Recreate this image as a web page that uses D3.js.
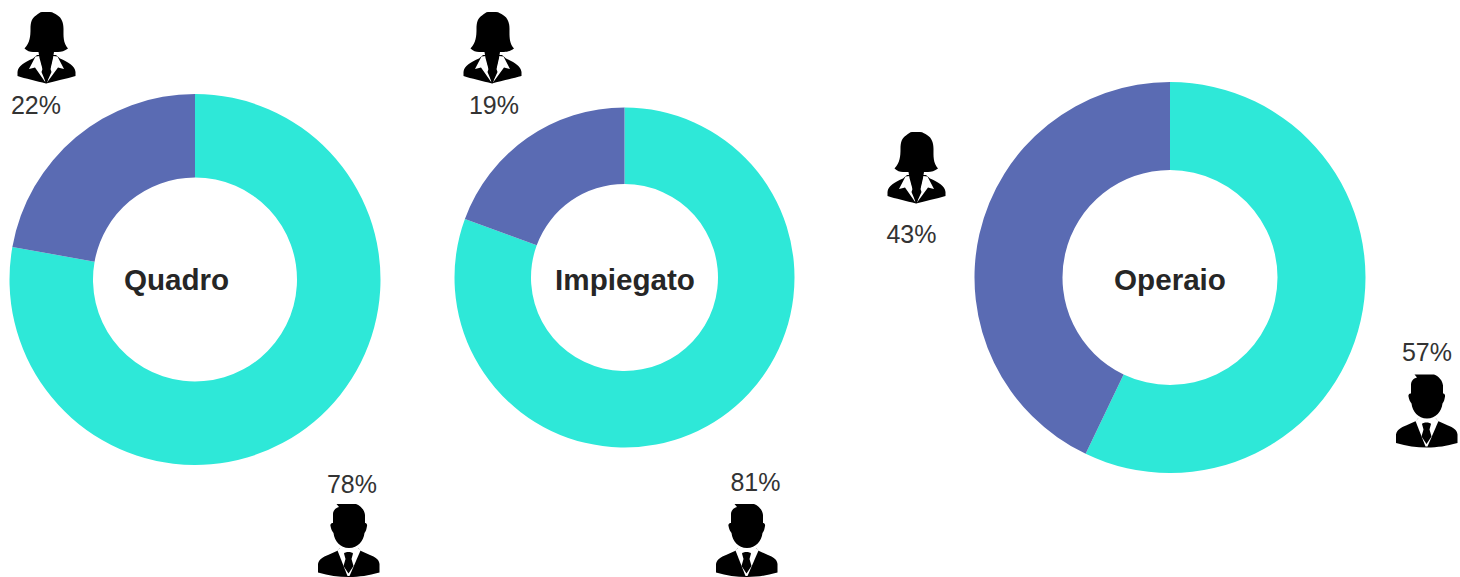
<!DOCTYPE html>
<html><head><meta charset="utf-8">
<script src="https://cdn.jsdelivr.net/npm/d3@7/dist/d3.min.js"></script>
<style>html,body{margin:0;padding:0;background:#fff;overflow:hidden}svg{display:block}text{font-family:"Liberation Sans",Arial,sans-serif}</style>
</head><body><svg id="c" width="1460" height="577"></svg>
<script>
const categories=["Quadro","Impiegato","Operaio"];
const maleValues=[77.8,80.6,57.1];
const femaleValues=[22.2,19.4,42.9];
const seriesColors=["#2ee8d8","#5a6bb3"];
const centers=[[195,279.5],[624.5,277.5],[1170,277.5]];
const radii=[[185.5,102],[170,93.5],[195.5,107.5]];
const titleX=[176.5,625,1170];
const femaleLabelPos=[[36,114],[494,114],[911.5,242.5]];
const maleLabelPos=[[352,492.5],[755.5,490.5],[1427,360.5]];
const femaleIconPos=[[17,12],[463,12],[887,132]];
const maleIconPos=[[318,504],[716,504],[1396,374.5]];

const svg=d3.select("#c");
const pie=d3.pie().sort(null).value(d=>d);
const pct=d3.format(".0f");
categories.forEach((name,i)=>{
  const g=svg.append("g").attr("transform",`translate(${centers[i]})`);
  const arc=d3.arc().innerRadius(radii[i][1]).outerRadius(radii[i][0]);
  g.selectAll("path").data(pie([maleValues[i],femaleValues[i]])).join("path")
    .attr("d",arc).attr("fill",(d,j)=>seriesColors[j]);
  svg.append("text").attr("x",titleX[i]).attr("y",290)
    .attr("text-anchor","middle").attr("font-size",29.6).attr("font-weight","bold").attr("fill","#262626").text(name);
  svg.append("text").attr("x",femaleLabelPos[i][0]).attr("y",femaleLabelPos[i][1])
    .attr("text-anchor","middle").attr("font-size",25).attr("fill","#333").text(pct(femaleValues[i])+"%");
  svg.append("text").attr("x",maleLabelPos[i][0]).attr("y",maleLabelPos[i][1])
    .attr("text-anchor","middle").attr("font-size",25).attr("fill","#333").text(pct(maleValues[i])+"%");
});
function female(p){
  const g=svg.append("g").attr("transform",`translate(${p})`);
  g.append("path").attr("fill","#000").attr("d","M0.5,60 C1,54 8,50 16,46.5 L20,43 L39,43 L43,46.5 C51,50 58,54 58.5,60 L58.5,64 C50,66.5 38,69 29,71.5 C20,69 8,66.5 0.5,64 Z");
  g.append("path").attr("fill","#fff").attr("d","M18.5,44.5 L12,57 L18,55.5 L28.5,70.5 L23,44 Z M40.5,44.5 L47,57 L41,55.5 L30,70.5 L36,44 Z");
  g.append("path").attr("fill","#000").attr("d","M25,0 L33,0 C36,0 38,2 40,3 C45,6 46.5,11 46.5,17 C46.5,24 46,31 51,36.5 C48,39 44,40 41,40 L37,40 L36,46 L33.5,57 L34.5,60 L29.3,71.5 L24.5,60 L25.5,57 L22.5,46 L21.5,40 L16,40 C13,40 10,39 7.5,36.5 C13,31 13.5,24 13.5,17 C13.5,10 15,6 19,3.5 C21,2 23,0 25,0 Z");
}
function male(p){
  const g=svg.append("g").attr("transform",`translate(${p})`);
  g.append("path").attr("fill","#000").attr("d","M0,68.5 L0,60 C1,55 5,53 10,51 L20,46.5 L22,44 L40,44 L42,46.5 L52,51 C57,53 61,55 61.5,60 L61.5,68.5 C50,71.5 42,73 31,73 C20,73 11,71.5 0,68.5 Z");
  g.append("path").attr("fill","#fff").attr("d","M19.5,46.5 L25,41 L37,41 L42.5,46.5 L31.5,72 L29.5,72 Z");
  g.append("path").attr("fill","#000").attr("d","M26,49.5 C27,47.5 34,47.5 35,49.5 L33.5,55 L35.5,62 L30.5,69.5 L25.5,62 L27.5,55 Z");
  g.append("path").attr("fill","#000").attr("d","M18.5,0 L38,0 C43,2 46.5,6 47,11 L47,19 C48,18.5 49.5,20 49,22 C48.5,25 48,27 46.5,29 C45.5,37 40,44 31,44 C22,44 16.5,37 15.5,29 C14,27 13,25 12.5,22 C12,20 13.5,18.5 15,19 L15,10 C15,7 17,4 21,3 Z");
}
femaleIconPos.forEach(female);
maleIconPos.forEach(male);
</script></body></html>
